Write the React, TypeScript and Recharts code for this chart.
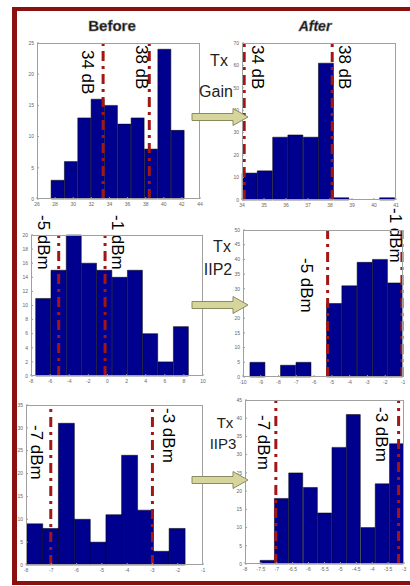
import { BarChart, Bar, XAxis, YAxis, ReferenceLine } from "recharts";

const FONT = '"Liberation Sans", Arial, Helvetica, sans-serif';
const NAVY = "#00008f";
const LINE_RED = "#a31616";
const FRAME_RED = "#8b1010";

// Tx Gain (dB) - before
const gainBeforeBins = [28.29, 29.76, 31.24, 32.71, 34.18, 35.66, 37.13, 38.61, 40.08, 41.55];
const gainBeforeCounts = [3, 6, 13, 16, 15, 12, 13, 8, 24, 11];
const gainBeforeLimits = [33.3, 38.4];
const gainBeforeLabels = ["34 dB", "38 dB"];
const gainBeforeXTicks = [26, 28, 30, 32, 34, 36, 38, 40, 42, 44];
const gainBeforeYTicks = [0, 5, 10, 15, 20, 25];

// Tx Gain (dB) - after
const gainAfterBins = [34.35, 35.04, 35.74, 36.43, 37.13, 37.82, 38.52, 39.21, 39.91, 40.6];
const gainAfterCounts = [12, 13, 28, 29, 28, 61, 1, 0, 0, 1];
const gainAfterLimits = [34.1, 38.1];
const gainAfterLabels = ["34 dB", "38 dB"];
const gainAfterXTicks = [34, 35, 36, 37, 38, 39, 40, 41];
const gainAfterYTicks = [0, 10, 20, 30, 40, 50, 60, 70];

// Tx IIP2 (dBm) - before
const iip2BeforeBins = [-6.71, -5.11, -3.51, -1.91, -0.31, 1.29, 2.89, 4.49, 6.09, 7.7];
const iip2BeforeCounts = [11, 15, 20, 16, 15, 14, 15, 6, 2, 7];
const iip2BeforeLimits = [-5.1, -0.25];
const iip2BeforeLabels = ["-5 dBm", "-1 dBm"];
const iip2BeforeXTicks = [-8, -6, -4, -2, 0, 2, 4, 6, 8, 10];
const iip2BeforeYTicks = [0, 2, 4, 6, 8, 10, 12, 14, 16, 18, 20];

// Tx IIP2 (dBm) - after
const iip2AfterBins = [-9.18, -8.32, -7.46, -6.59, -5.73, -4.87, -4.01, -3.15, -2.29, -1.43];
const iip2AfterCounts = [5, 0, 4, 5, 0, 25, 31, 39, 40, 32];
const iip2AfterLimits = [-5.24, -1.06];
const iip2AfterLabels = ["-5 dBm", "-1 dBm"];
const iip2AfterXTicks = [-10, -9, -8, -7, -6, -5, -4, -3, -2, -1];
const iip2AfterYTicks = [0, 5, 10, 15, 20, 25, 30, 35, 40, 45, 50];

// Tx IIP3 (dBm) - before
const iip3BeforeBins = [-7.66, -7.03, -6.41, -5.78, -5.16, -4.53, -3.91, -3.28, -2.66, -2.03];
const iip3BeforeCounts = [9, 8, 31, 10, 5, 11, 24, 12, 3, 8];
const iip3BeforeLimits = [-7.02, -3.0];
const iip3BeforeLabels = ["-7 dBm", "-3 dBm"];
const iip3BeforeXTicks = [-8, -7, -6, -5, -4, -3, -2, -1];
const iip3BeforeYTicks = [0, 5, 10, 15, 20, 25, 30, 35];

// Tx IIP3 (dBm) - after
const iip3AfterBins = [-7.3, -6.85, -6.4, -5.94, -5.49, -5.04, -4.59, -4.13, -3.68, -3.23];
const iip3AfterCounts = [1, 18, 25, 21, 14, 32, 41, 10, 22, 33];
const iip3AfterLimits = [-7.03, -3.17];
const iip3AfterLabels = ["-7 dBm", "-3 dBm"];
const iip3AfterXTicks = [-8, -7.5, -7, -6.5, -6, -5.5, -5, -4.5, -4, -3.5, -3];
const iip3AfterYTicks = [0, 5, 10, 15, 20, 25, 30, 35, 40, 45];

function RotLabel({ viewBox, text, dx, dy, size = 17 }: any) {
  const x = viewBox.x + dx;
  const y = viewBox.y + dy;
  return (
    <text
      x={x}
      y={y}
      transform={`rotate(90 ${x} ${y})`}
      fontSize={size}
      fontFamily={FONT}
      fill="#000"
      dominantBaseline="central"
      textAnchor="start"
    >
      {text}
    </text>
  );
}

function Panel({ box, bins, counts, xDomain, xTicks, yDomain, yTicks, limits, labels, offsets }: any) {
  const ML = 24, MR = 12, MT = 32, MB = 12;
  const data = bins.map((x: number, i: number) => ({ x, n: counts[i] }));
  const tickStyle = { fontSize: 5, fill: "#666", fontFamily: FONT };
  return (
    <>
      <div style={{ position: "absolute", left: box.x - ML, top: box.y - MT }}>
        <BarChart
          width={box.w + ML + MR}
          height={box.h + MT + MB}
          data={data}
          margin={{ top: MT, right: MR, bottom: 0, left: 0 }}
          barCategoryGap={0}
          barGap={0}
        >
          <XAxis
            dataKey="x"
            type="number"
            domain={xDomain}
            ticks={xTicks}
            interval={0}
            height={MB}
            tickSize={-2}
            tickMargin={5}
            axisLine={false}
            tick={tickStyle}
            tickLine={{ stroke: "#999" }}
          />
          <YAxis
            type="number"
            domain={yDomain}
            ticks={yTicks}
            interval={0}
            width={ML}
            tickSize={-2}
            tickMargin={5}
            axisLine={false}
            tick={tickStyle}
            tickLine={{ stroke: "#999" }}
          />
          <Bar dataKey="n" fill={NAVY} stroke="#000" strokeWidth={0.5} isAnimationActive={false} />
          {limits.map((v: number, i: number) => (
            <ReferenceLine
              key={i}
              x={v}
              stroke={LINE_RED}
              strokeWidth={3}
              strokeDasharray="10 5 3 5"
              label={(p: any) => <RotLabel viewBox={p.viewBox} text={labels[i]} {...offsets[i]} />}
            />
          ))}
        </BarChart>
      </div>
      <div
        style={{
          position: "absolute",
          left: box.x,
          top: box.y,
          width: box.w,
          height: box.h,
          border: "1px solid #a0a0a0",
          boxSizing: "border-box",
          pointerEvents: "none",
        }}
      />
    </>
  );
}

function Arrow({ cy }: { cy: number }) {
  const pts = [
    [192, cy - 3.5], [233, cy - 3.5], [233, cy - 8.5], [248, cy],
    [233, cy + 8.5], [233, cy + 3.5], [192, cy + 3.5],
  ].map((p) => p.join(",")).join(" ");
  return <polygon points={pts} fill="#d6d69c" stroke="#8a8a60" strokeWidth={1} />;
}

export default function App() {
  return (
    <div
      style={{
        position: "absolute",
        left: 0,
        top: 0,
        width: 410,
        height: 586,
        background: "#fff",
        overflow: "hidden",
        fontFamily: FONT,
      }}
    >
      {/* frame */}
      <div style={{ position: "absolute", left: 12, top: 7, width: 398, height: 4, background: FRAME_RED }} />
      <div style={{ position: "absolute", left: 12, top: 7, width: 5, height: 578, background: FRAME_RED }} />
      <div style={{ position: "absolute", left: 12, top: 581, width: 398, height: 4, background: FRAME_RED }} />

      <Panel
        box={{ x: 37, y: 43, w: 163, h: 156 }}
        bins={gainBeforeBins} counts={gainBeforeCounts}
        xDomain={[26, 44]} xTicks={gainBeforeXTicks}
        yDomain={[0, 25]} yTicks={gainBeforeYTicks}
        limits={gainBeforeLimits} labels={gainBeforeLabels}
        offsets={[{ dx: -16, dy: 7 }, { dx: -8, dy: 2 }]}
      />
      <Panel
        box={{ x: 242, y: 43, w: 154, h: 157 }}
        bins={gainAfterBins} counts={gainAfterCounts}
        xDomain={[34, 41]} xTicks={gainAfterXTicks}
        yDomain={[0, 70]} yTicks={gainAfterYTicks}
        limits={gainAfterLimits} labels={gainAfterLabels}
        offsets={[{ dx: 13, dy: 2 }, { dx: 12, dy: 2 }]}
      />
      <Panel
        box={{ x: 31, y: 235, w: 172, h: 141 }}
        bins={iip2BeforeBins} counts={iip2BeforeCounts}
        xDomain={[-8, 10]} xTicks={iip2BeforeXTicks}
        yDomain={[0, 20]} yTicks={iip2BeforeYTicks}
        limits={iip2BeforeLimits} labels={iip2BeforeLabels}
        offsets={[{ dx: -15, dy: -20 }, { dx: 12, dy: -20 }]}
      />
      <Panel
        box={{ x: 243, y: 230, w: 160, h: 147 }}
        bins={iip2AfterBins} counts={iip2AfterCounts}
        xDomain={[-10, -1]} xTicks={iip2AfterXTicks}
        yDomain={[0, 50]} yTicks={iip2AfterYTicks}
        limits={iip2AfterLimits} labels={iip2AfterLabels}
        offsets={[{ dx: -21, dy: 28 }, { dx: -6, dy: -22 }]}
      />
      <Panel
        box={{ x: 26, y: 405, w: 177, h: 160 }}
        bins={iip3BeforeBins} counts={iip3BeforeCounts}
        xDomain={[-8, -1]} xTicks={iip3BeforeXTicks}
        yDomain={[0, 35]} yTicks={iip3BeforeYTicks}
        limits={iip3BeforeLimits} labels={iip3BeforeLabels}
        offsets={[{ dx: -14, dy: 20 }, { dx: 16, dy: 3 }]}
      />
      <Panel
        box={{ x: 245, y: 400, w: 159, h: 164 }}
        bins={iip3AfterBins} counts={iip3AfterCounts}
        xDomain={[-8, -3]} xTicks={iip3AfterXTicks}
        yDomain={[0, 45]} yTicks={iip3AfterYTicks}
        limits={iip3AfterLimits} labels={iip3AfterLabels}
        offsets={[{ dx: -12, dy: 15 }, { dx: -17, dy: 7 }]}
      />

      <svg width={410} height={586} style={{ position: "absolute", left: 0, top: 0, pointerEvents: "none" }}>
        <g fontFamily={FONT}>
          <text x={112} y={31} textAnchor="middle" fontSize={15} fontWeight="bold" fill="#111" stroke="#777" strokeWidth={0.5}>Before</text>
          <text x={315} y={31} textAnchor="middle" fontSize={14} fontWeight="bold" fontStyle="italic" fill="#111" stroke="#777" strokeWidth={0.5}>After</text>

          <text x={219} y={66} textAnchor="middle" fontSize={16} fill="#222">Tx</text>
          <text x={216} y={97} textAnchor="middle" fontSize={16} fill="#222">Gain</text>
          <text x={222} y={252} textAnchor="middle" fontSize={16} fill="#222">Tx</text>
          <text x={218} y={275} textAnchor="middle" fontSize={16} fill="#222">IIP2</text>
          <text x={225} y={428} textAnchor="middle" fontSize={15} fill="#222">Tx</text>
          <text x={223} y={449} textAnchor="middle" fontSize={15} fill="#222">IIP3</text>

          <Arrow cy={117} />
          <Arrow cy={305} />
          <Arrow cy={480} />
        </g>
      </svg>
    </div>
  );
}
